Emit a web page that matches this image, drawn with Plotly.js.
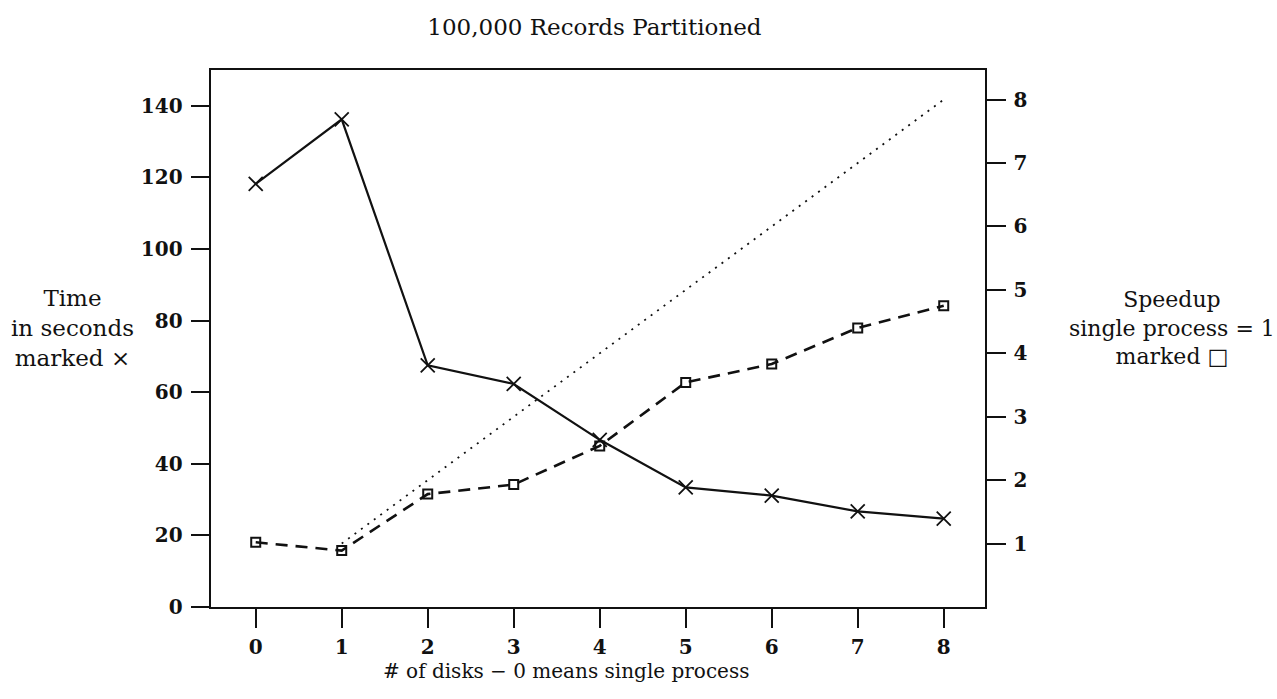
<!DOCTYPE html>
<html>
<head>
<meta charset="utf-8">
<script src="https://cdn.plot.ly/plotly-3.0.1.min.js"></script>
<style>
  html, body { margin: 0; padding: 0; background: #fff; }
  #chart { width: 1277px; height: 699px; }
</style>
</head>
<body>
<div id="chart"></div>
<script>
// Number of disks (0 = single process)
const disks = [0, 1, 2, 3, 4, 5, 6, 7, 8];
// Elapsed time in seconds (marked x)
const timeSeconds = [118.2, 136.2, 67.5, 62.3, 46.7, 33.4, 31.1, 26.7, 24.7];
// Speedup relative to the single process (marked square)
const speedup = [1.02, 0.89, 1.78, 1.93, 2.54, 3.54, 3.83, 4.40, 4.75];
// Ideal linear speedup reference
const idealDisks = [1, 8];
const idealSpeedup = [1, 8];

const leftTicks = [0, 20, 40, 60, 80, 100, 120, 140];
const rightTicks = [1, 2, 3, 4, 5, 6, 7, 8];

const serif = 'DejaVu Serif, Liberation Serif, serif';
const ink = '#111';

const traces = [
  {
    x: idealDisks, y: idealSpeedup, yaxis: 'y2', mode: 'lines',
    line: { color: ink, width: 1.8, dash: '2px,6px' },
    hoverinfo: 'skip'
  },
  {
    x: disks, y: speedup, yaxis: 'y2', mode: 'lines+markers',
    line: { color: ink, width: 2.6, dash: '12px,8px' },
    marker: { symbol: 'square-open', size: 9, color: ink, line: { color: ink, width: 2 } }
  },
  {
    x: disks, y: timeSeconds, yaxis: 'y', mode: 'lines+markers',
    line: { color: ink, width: 2.2 },
    marker: { symbol: 'x-thin-open', size: 14, color: ink, line: { color: ink, width: 1.8 } }
  }
];

const tickFont = { family: serif, size: 20, color: ink, weight: 'bold' };

const layout = {
  width: 1277, height: 699,
  margin: { l: 211, r: 292, t: 70, b: 92 },
  paper_bgcolor: '#fff', plot_bgcolor: '#fff',
  showlegend: false,
  title: {
    text: '100,000 Records Partitioned',
    font: { family: serif, size: 23, color: ink },
    x: 0.4655, xanchor: 'center', y: 0.962, yanchor: 'middle'
  },
  xaxis: {
    range: [-0.52, 8.48],
    tickvals: disks,
    ticks: 'outside', ticklen: 19, tickwidth: 2, tickcolor: ink,
    showline: true, linewidth: 2.4, linecolor: ink, mirror: true,
    showgrid: false, zeroline: false,
    tickfont: tickFont, ticklabelstandoff: 2
  },
  yaxis: {
    range: [0, 150],
    tickvals: leftTicks,
    ticks: 'outside', ticklen: 18, tickwidth: 2, tickcolor: ink,
    showline: true, linewidth: 2.4, linecolor: ink,
    showgrid: false, zeroline: false,
    tickfont: tickFont, ticklabelstandoff: 4
  },
  yaxis2: {
    range: [0, 8.466],
    overlaying: 'y', side: 'right',
    tickvals: rightTicks,
    ticks: 'outside', ticklen: 19, tickwidth: 2, tickcolor: ink,
    showline: true, linewidth: 2.4, linecolor: ink,
    showgrid: false, zeroline: false,
    tickfont: tickFont, ticklabelstandoff: 3
  },
  annotations: [
    {
      xref: 'paper', yref: 'paper', x: -0.179, y: 0.52, xanchor: 'center', yanchor: 'middle',
      text: 'Time<br>in seconds<br>marked ×', showarrow: false, align: 'center',
      font: { family: serif, size: 23, color: ink }
    },
    {
      xref: 'paper', yref: 'paper', x: 1.241, y: 0.52, xanchor: 'center', yanchor: 'middle',
      text: 'Speedup<br>single process = 1<br>marked □', showarrow: false, align: 'center',
      font: { family: serif, size: 22, color: ink }
    },
    {
      xref: 'paper', yref: 'paper', x: 0.459, y: -0.12, xanchor: 'center', yanchor: 'middle',
      text: '# of disks − 0 means single process', showarrow: false,
      font: { family: serif, size: 20, color: ink }
    }
  ]
};

Plotly.newPlot('chart', traces, layout, { displayModeBar: false, staticPlot: true });
</script>
</body>
</html>
